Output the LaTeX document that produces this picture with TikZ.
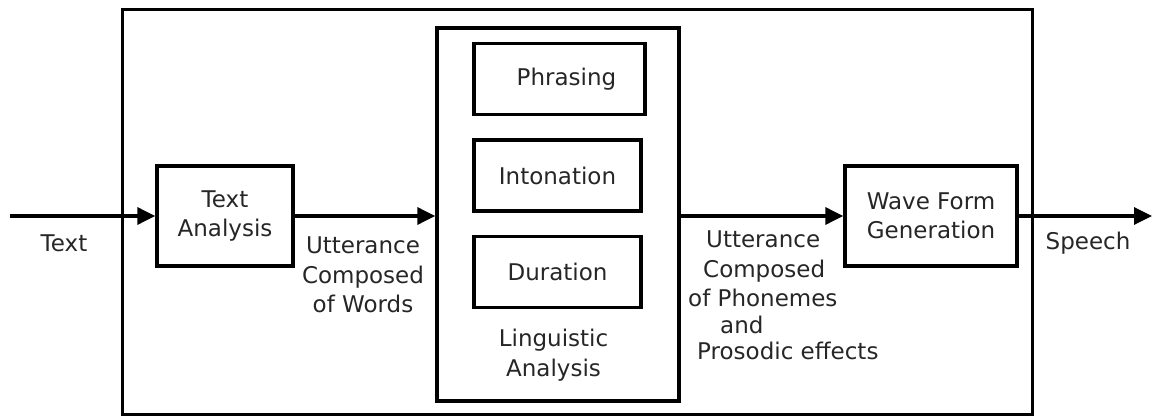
\documentclass[tikz,border=0pt]{standalone}
\usepackage{fontspec}
\setmainfont{DejaVu Sans}
\usetikzlibrary{positioning,arrows.meta}

\begin{document}
\begin{tikzpicture}[
    x=1pt, y=-1pt,
    every node/.style={font=\fontsize{23}{29.5}\selectfont, text=black!85},
    block/.style={draw, rectangle, line width=3.4pt, align=center, inner sep=0pt},
    frame/.style={draw, rectangle, line width=3pt, inner sep=0pt},
    note/.style={align=center, inner sep=0pt},
    arrow/.style={draw, line width=3.4pt, -{Triangle[length=18pt,width=17pt]}}
]
    \useasboundingbox (0,0) rectangle (1152,417);

    % Outer system frame
    \node[frame, minimum width=910pt, minimum height=404pt] (system) at (577,212) {};

    % Main blocks
    \node[block, minimum width=136pt, minimum height=100pt] (ta) at (225,216) {Text\\Analysis};
    \node[block, minimum width=242pt, minimum height=373pt] (la) at (558,214.5) {};
    \node[block, minimum width=172pt, minimum height=100pt] (wf) at (931,216) {Wave Form\\Generation};

    % Linguistic sub-blocks
    \node[block, minimum width=167pt, minimum height=71pt] (into) at (557.5,175.5) {Intonation};
    \node[block, minimum width=171pt, minimum height=71pt, above=22pt of into.north west, anchor=south west] (phr) {\hspace{14pt}Phrasing};
    \node[block, minimum width=167pt, minimum height=71pt, below=22pt of into] (dur) {Duration};
    \node[note, below=20pt of dur, xshift=-4pt] (lalabel) {Linguistic\\Analysis};

    % Labels
    \node[note] (txt) at (64,243) {Text};
    \node[note] (words) at (363,275) {Utterance\\Composed\\of Words};
    \node[note, align=left, anchor=north west] (phon) at (688,231)
        {\hspace{18pt}Utterance\\\hspace{15pt}Composed\\of Phonemes\\[-3pt]\hspace{32pt}and\\[-3pt]\hspace{9pt}Prosodic effects};
    \node[note] (speech) at (1088,243) {Speech};

    % Connections
    \coordinate (in) at (10,216);
    \coordinate (out) at (1152,216);
    \path[arrow] (in) -- (ta.west);
    \path[arrow] (ta.east) -- (ta.east -| la.west);
    \path[arrow] (la.east |- wf.west) -- (wf.west);
    \path[arrow] (wf.east) -- (wf.east -| out);

\end{tikzpicture}
\end{document}
